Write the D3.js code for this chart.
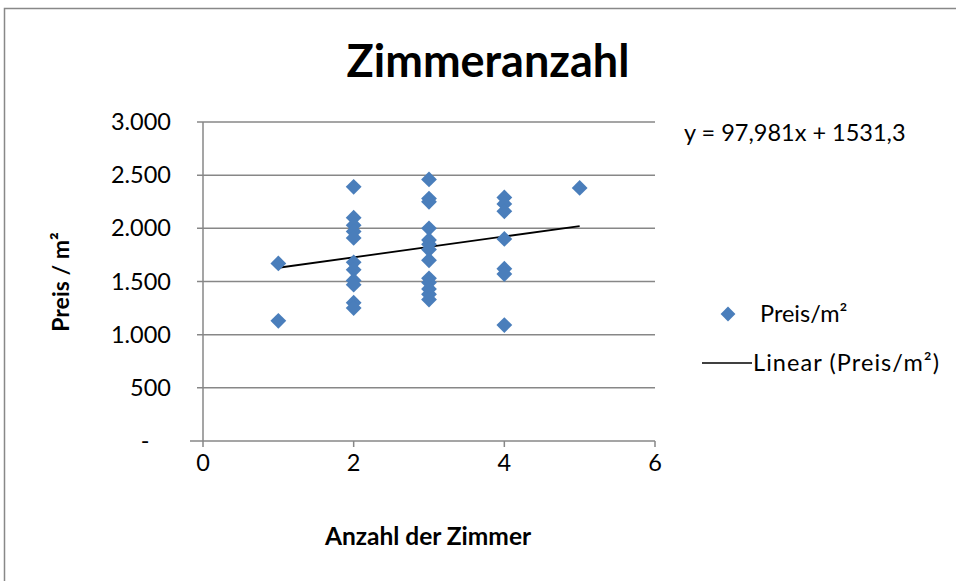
<!DOCTYPE html>
<html><head><meta charset="utf-8">
<script src="https://cdn.jsdelivr.net/npm/d3@7"></script>
<style>body{margin:0;background:#fff}svg{display:block}text{font-family:Lato,"Open Sans",sans-serif}</style>
</head><body><svg id="c" width="956" height="581"></svg>
<script>
const title = "Zimmeranzahl";
const xTitle = "Anzahl der Zimmer";
const yTitle = "Preis / m²";
const seriesName = "Preis/m²";
const trendName = "Linear (Preis/m²)";
const equation = "y = 97,981x + 1531,3";
const slope = 97.981, intercept = 1531.3;
const xTicks = [0, 2, 4, 6];
const yTicks = [0, 500, 1000, 1500, 2000, 2500, 3000];
const yTickLabels = ["-", "500", "1.000", "1.500", "2.000", "2.500", "3.000"];
const rooms = [1,1, 2,2,2,2,2,2,2,2,2,2,2, 3,3,3,3,3,3,3,3,3,3,3,3,3, 4,4,4,4,4,4,4, 5];
const prices = [1670,1130,
  2390,2100,2030,1970,1910,1680,1610,1510,1470,1300,1250,
  2460,2280,2250,2000,1890,1850,1800,1700,1530,1490,1430,1380,1330,
  2290,2230,2160,1900,1620,1570,1090,
  2380];

const svg = d3.select("#c");
svg.append("rect").attr("x",4.5).attr("y",8.5).attr("width",1000).attr("height",1000)
  .attr("fill","#fff").attr("stroke","#888").attr("stroke-width",1.5);

const L=203, R=655, T=122, B=441;
const x = d3.scaleLinear().domain([0,6]).range([L,R]);
const y = d3.scaleLinear().domain([0,3000]).range([B,T]);

svg.append("g").selectAll("line").data(yTicks.filter(d=>d>0)).join("line")
  .attr("x1",L-6).attr("x2",R).attr("y1",d=>y(d)).attr("y2",d=>y(d))
  .attr("stroke","#878787").attr("stroke-width",1.5);
svg.append("line").attr("x1",L).attr("x2",L).attr("y1",T).attr("y2",B).attr("stroke","#878787").attr("stroke-width",1.5);
svg.append("line").attr("x1",L-13).attr("x2",R).attr("y1",B).attr("y2",B).attr("stroke","#878787").attr("stroke-width",1.5);
svg.append("g").selectAll("line").data(xTicks).join("line")
  .attr("x1",d=>x(d)).attr("x2",d=>x(d)).attr("y1",B).attr("y2",B+6)
  .attr("stroke","#878787").attr("stroke-width",1.5);

svg.append("g").selectAll("text").data(yTicks).join("text")
  .attr("x",(d,i)=> i===0 ? 145 : 171).attr("y",d=>y(d)+8)
  .attr("text-anchor",(d,i)=> i===0 ? "middle" : "end")
  .attr("font-size",23.5).attr("fill","#000")
  .text((d,i)=>yTickLabels[i]);
svg.append("g").selectAll("text").data(xTicks).join("text")
  .attr("x",d=>x(d)).attr("y",B+30).attr("text-anchor","middle")
  .attr("font-size",23.5).attr("fill","#000").text(d=>d);

svg.append("line").attr("x1",x(1)).attr("x2",x(5))
  .attr("y1",y(slope*1+intercept)).attr("y2",y(slope*5+intercept))
  .attr("stroke","#000").attr("stroke-width",1.8);

const diamond = d3.symbol().type(d3.symbolSquare).size(125);
svg.append("g").selectAll("path").data(rooms.map((r,i)=>[r,prices[i]])).join("path")
  .attr("d",diamond())
  .attr("transform",d=>`translate(${x(d[0])},${y(d[1])}) rotate(45)`)
  .attr("fill","#4A7EBB");

svg.append("text").attr("x",488).attr("y",77).attr("text-anchor","middle")
  .attr("font-size",45).attr("font-weight","bold").text(title);
svg.append("text").attr("x",428).attr("y",545).attr("text-anchor","middle")
  .attr("font-size",24.5).attr("font-weight","bold").text(xTitle);
svg.append("text").attr("transform","translate(69,282) rotate(-90)").attr("text-anchor","middle")
  .attr("font-size",23).attr("font-weight","bold").text(yTitle);

svg.append("text").attr("x",684).attr("y",141).attr("font-size",23.5).text(equation);

svg.append("path").attr("d",d3.symbol().type(d3.symbolSquare).size(110)())
  .attr("transform","translate(728,314) rotate(45)").attr("fill","#4A7EBB");
svg.append("text").attr("x",760).attr("y",322).attr("font-size",23.5).text(seriesName);
svg.append("line").attr("x1",702).attr("x2",752).attr("y1",363).attr("y2",363).attr("stroke","#000").attr("stroke-width",1.5);
svg.append("text").attr("x",753).attr("y",371).attr("font-size",23.5)
  .attr("textLength",186).attr("lengthAdjust","spacing").text(trendName);
</script></body></html>
